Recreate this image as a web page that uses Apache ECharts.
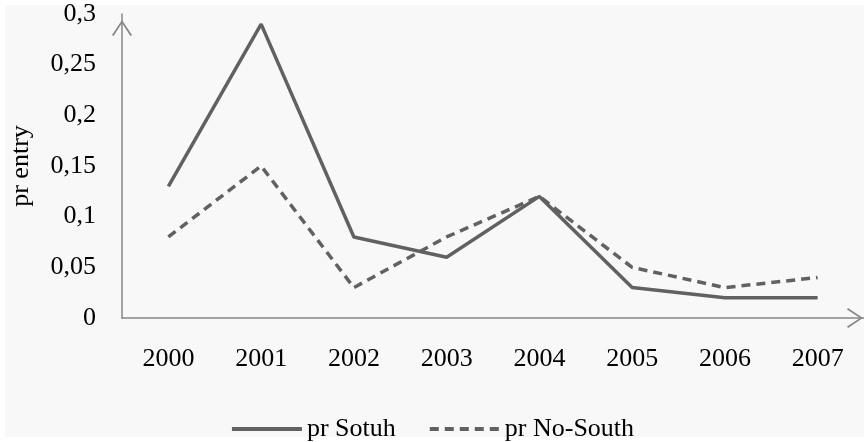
<!DOCTYPE html>
<html>
<head>
<meta charset="utf-8">
<script src="https://cdn.jsdelivr.net/npm/echarts@6/dist/echarts.min.js"></script>
<style>
  html, body { margin: 0; padding: 0; background: #ffffff; }
  #bg { position: absolute; left: 5px; top: 5px; width: 859px; height: 432px; background: #f8f8f8; }
  #chart { position: absolute; left: 0; top: 0; width: 864px; height: 442px; }
</style>
</head>
<body>
<div id="bg"></div>
<div id="chart"></div>
<script>
const years = ['2000', '2001', '2002', '2003', '2004', '2005', '2006', '2007'];
const prSouth = [0.13, 0.29, 0.08, 0.06, 0.12, 0.03, 0.02, 0.02];
const prNoSouth = [0.08, 0.15, 0.03, 0.08, 0.12, 0.05, 0.03, 0.04];
const yTicks = { min: 0, max: 0.3, step: 0.05 };

const font = '"Liberation Serif", "DejaVu Serif", serif';
const axisColor = '#878787';
const lineColor = '#616161';
// open chevron used as axis arrow
const chevron = 'path://M0,15 L10,0 L20,15 L18.4,16 L10,3 L1.6,16 Z';

const chart = echarts.init(document.getElementById('chart'), null, { renderer: 'canvas' });

chart.setOption({
  backgroundColor: 'transparent',
  animation: false,
  textStyle: { fontFamily: font },
  grid: { left: 120, top: 14, right: -5, bottom: 124, containLabel: false },
  legend: {
    top: 411,
    left: 'center',
    itemWidth: 70,
    itemHeight: 14,
    itemGap: 32,
    itemStyle: { opacity: 0 },
    lineStyle: { width: 4 },
    textStyle: { fontFamily: font, fontSize: 26, color: '#000' },
    data: ['pr Sotuh', 'pr No-South']
  },
  xAxis: {
    type: 'category',
    data: years,
    boundaryGap: true,
    axisLine: {
      show: true,
      lineStyle: { color: axisColor, width: 1.5 },
      symbol: ['none', chevron],
      symbolSize: [20, 16],
      symbolOffset: [0, -9]
    },
    axisTick: { show: false },
    axisLabel: { color: '#000', fontSize: 26, fontFamily: font, margin: 28 },
    splitLine: { show: false }
  },
  yAxis: {
    type: 'value',
    min: yTicks.min,
    max: yTicks.max,
    interval: yTicks.step,
    name: 'pr entry',
    nameLocation: 'middle',
    nameGap: 88,
    nameTextStyle: { color: '#000', fontSize: 26, fontFamily: font },
    axisLine: {
      show: true,
      lineStyle: { color: axisColor, width: 1.5 },
      symbol: ['none', chevron],
      symbolSize: [20, 16],
      symbolOffset: [0, -14]
    },
    axisTick: { show: false },
    axisLabel: {
      color: '#000', fontSize: 26, fontFamily: font, margin: 26,
      formatter: v => String(+v.toFixed(2)).replace('.', ',')
    },
    splitLine: { show: false }
  },
  series: [
    {
      name: 'pr Sotuh',
      type: 'line',
      data: prSouth,
      symbol: 'none',
      lineStyle: { color: lineColor, width: 3.5 },
      itemStyle: { color: lineColor }
    },
    {
      name: 'pr No-South',
      type: 'line',
      data: prNoSouth,
      symbol: 'none',
      lineStyle: { color: lineColor, width: 3.5, type: [9, 6] },
      itemStyle: { color: lineColor }
    }
  ]
});
</script>
</body>
</html>
